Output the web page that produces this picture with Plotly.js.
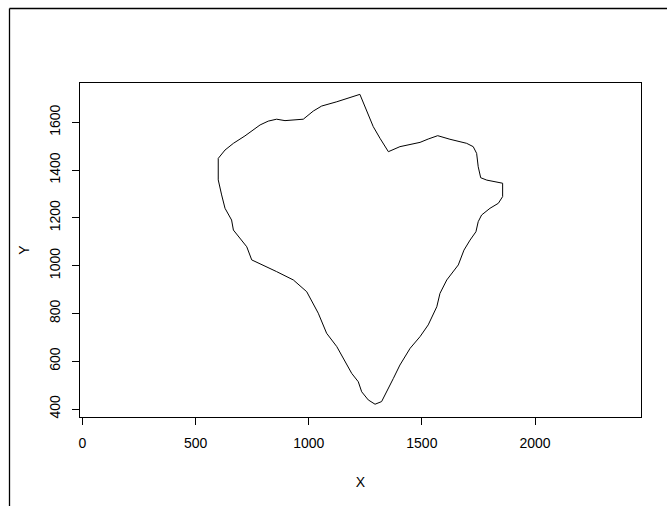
<!DOCTYPE html>
<html>
<head>
<meta charset="utf-8">
<script src="https://cdn.plot.ly/plotly-3.0.1.min.js"></script>
<style>html,body{margin:0;padding:0;background:#fff;}#chart{width:667px;height:506px;}</style>
</head>
<body>
<div id="chart"></div>
<script>
// Outline coordinates, clockwise from the top peak
const xValues = [1226,1256,1285,1315,1352,1403,1492,1528,1570,1624,1698,1727,1742,1749,1760,1787,1831,1857,1857,1838,1801,1764,1749,1739,1713,1686,1661,1639,1610,1580,1566,1528,1492,1448,1403,1374,1344,1322,1293,1263,1234,1219,1190,1160,1138,1124,1079,1042,991,932,858,748,726,667,659,630,615,600,600,630,667,718,785,821,858,895,976,998,1020,1057,1124,1226];
const yValues = [1717,1651,1582,1533,1477,1498,1516,1530,1544,1529,1512,1498,1470,1414,1368,1358,1351,1345,1289,1261,1240,1212,1184,1142,1107,1065,1003,975,940,884,828,752,703,654,584,528,472,431,420,438,472,514,549,598,636,661,717,801,891,940,975,1024,1079,1149,1191,1240,1296,1359,1449,1484,1512,1543,1589,1605,1613,1607,1613,1631,1647,1668,1686,1717];
const xTicks = [0,500,1000,1500,2000];
const yTicks = [400,600,800,1000,1200,1400,1600];

const W = 667, H = 506;
const m = {l:80, r:26, t:83, b:89};
const pw = W - m.l - m.r, ph = H - m.t - m.b;
const px = v => (v - m.l) / pw;          // pixel x -> paper x
const py = v => (H - m.b - v) / ph;      // pixel y -> paper y

const font = {family: '"Liberation Sans", Arial, sans-serif', size: 14, color: '#000'};

const trace = {
  x: xValues, y: yValues, type: 'scatter', mode: 'lines',
  line: {color: '#000', width: 1}, hoverinfo: 'skip'
};

const axisCommon = {
  showgrid: false, zeroline: false, showline: true, mirror: true,
  linecolor: '#000', linewidth: 1, ticks: 'outside', ticklen: 7,
  tickcolor: '#000', tickwidth: 1, tickfont: font
};

const layout = {
  width: W, height: H, margin: {l: m.l, r: m.r, t: m.t, b: m.b, pad: 0},
  paper_bgcolor: '#fff', plot_bgcolor: '#fff', showlegend: false, font: font,
  xaxis: Object.assign({}, axisCommon, {
    range: [-11, 2468.5], tickvals: xTicks, ticktext: xTicks.map(String),
    ticklabelstandoff: 6,
    title: {text: 'X', font: font, standoff: 27}
  }),
  yaxis: Object.assign({}, axisCommon, {
    range: [366.5, 1764.5], tickvals: yTicks, ticktext: yTicks.map(String),
    tickangle: -90, ticklabelstandoff: 6,
    title: {text: 'Y', font: font, standoff: 14}
  }),
  shapes: [
    {type: 'line', xref: 'paper', yref: 'paper', x0: px(9.5), x1: px(9.5), y0: py(H + 2), y1: py(8.5), line: {color: '#000', width: 1.3}},
    {type: 'line', xref: 'paper', yref: 'paper', x0: px(9.5), x1: px(W + 2), y0: py(8.5), y1: py(8.5), line: {color: '#000', width: 1.3}}
  ]
};

Plotly.newPlot('chart', [trace], layout, {staticPlot: true, displayModeBar: false});
</script>
</body>
</html>
